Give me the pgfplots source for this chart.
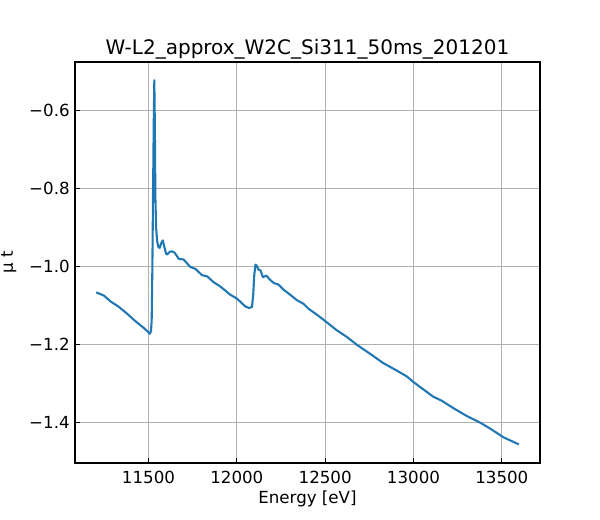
\documentclass[border=0pt]{standalone}
\usepackage{fontspec}
\setmainfont{DejaVu Sans}
\usepackage{pgfplots}
\pgfplotsset{compat=1.18}
\definecolor{mplblue}{HTML}{1F77B4}
\definecolor{mplgrid}{HTML}{B0B0B0}
\begin{document}
\fontsize{12}{14.4}\selectfont
\begin{tikzpicture}
\begin{axis}[
  scale only axis,
  width=334.8pt, height=288.7pt,
  xmin=11084, xmax=13716,
  ymin=-1.5026, ymax=-0.4765,
  scaled x ticks=false, scaled y ticks=false,
  axis line style={line width=0.8pt, black},
  tick align=inside,
  xtick pos=bottom, ytick pos=left,
  major tick length=3.5pt,
  every tick/.style={black, line width=0.8pt},
  xtick={11500,12000,12500,13000,13500},
  xticklabels={11500,12000,12500,13000,13500},
  ytick={-1.4,-1.2,-1.0,-0.8,-0.6},
  yticklabels={−1.4,−1.2,−1.0,−0.8,−0.6},
  xticklabel style={anchor=north, inner sep=0pt, yshift=-5.3pt, font=\fontsize{12}{14.4}\selectfont},
  yticklabel style={anchor=east, inner sep=0pt, xshift=-3.6pt, font=\fontsize{12}{14.4}\selectfont},
  grid=major,
  major grid style={mplgrid, line width=0.8pt},
  xlabel={Energy [eV]},
  ylabel={μ t},
  xlabel style={at={(axis description cs:0.5,-0.069)}, anchor=north, inner sep=0pt, font=\fontsize{12}{14.4}\selectfont},
  ylabel style={at={(axis description cs:-0.1254,0.5)}, anchor=south, inner sep=0pt, font=\fontsize{12}{14.4}\selectfont},
  title={W-L2\_approx\_W2C\_Si311\_50ms\_201201},
  every axis title shift=0pt,
  title style={at={(axis description cs:0.5,1.02)}, anchor=base, yshift=0pt, inner sep=0pt, font=\fontsize{14.4}{17.3}\selectfont},
]
\addplot[mplblue, line width=1.5pt, line join=round] coordinates {
(11204,-1.066) (11247,-1.074) (11285,-1.089) (11332,-1.103) (11380,-1.121)
(11427,-1.140) (11473,-1.157) (11495,-1.166) (11507,-1.172) (11514,-1.166)
(11518,-1.14) (11522,-1.0) (11526,-0.80) (11530,-0.62) (11533,-0.523)
(11536,-0.64) (11539,-0.82) (11543,-0.90) (11549,-0.935) (11556,-0.950)
(11564,-0.952) (11572,-0.940) (11581,-0.933) (11590,-0.950) (11600,-0.968)
(11606,-0.969) (11620,-0.962) (11634,-0.961) (11649,-0.965) (11671,-0.980)
(11699,-0.982) (11715,-0.990) (11737,-1.001) (11766,-1.006) (11803,-1.022)
(11832,-1.025) (11869,-1.040) (11907,-1.051) (11963,-1.072) (12001,-1.082)
(12048,-1.102) (12070,-1.106) (12086,-1.103) (12093,-1.07) (12099,-1.02)
(12106,-0.995) (12114,-0.999) (12123,-1.008) (12133,-1.009) (12148,-1.027)
(12167,-1.023) (12185,-1.032) (12208,-1.042) (12236,-1.046) (12264,-1.059)
(12302,-1.072) (12340,-1.086) (12377,-1.095) (12406,-1.108) (12453,-1.123)
(12502,-1.140) (12566,-1.163) (12623,-1.180) (12679,-1.200) (12754,-1.223)
(12829,-1.247) (12905,-1.266) (12962,-1.281) (13004,-1.297) (13112,-1.333)
(13159,-1.343) (13225,-1.362) (13300,-1.382) (13376,-1.399) (13432,-1.414)
(13510,-1.437) (13596,-1.455)
};
\end{axis}
\path ([xshift=-54pt, yshift=-41.04pt]current axis.south west) rectangle ++(432pt,374.4pt);
\end{tikzpicture}
\end{document}
